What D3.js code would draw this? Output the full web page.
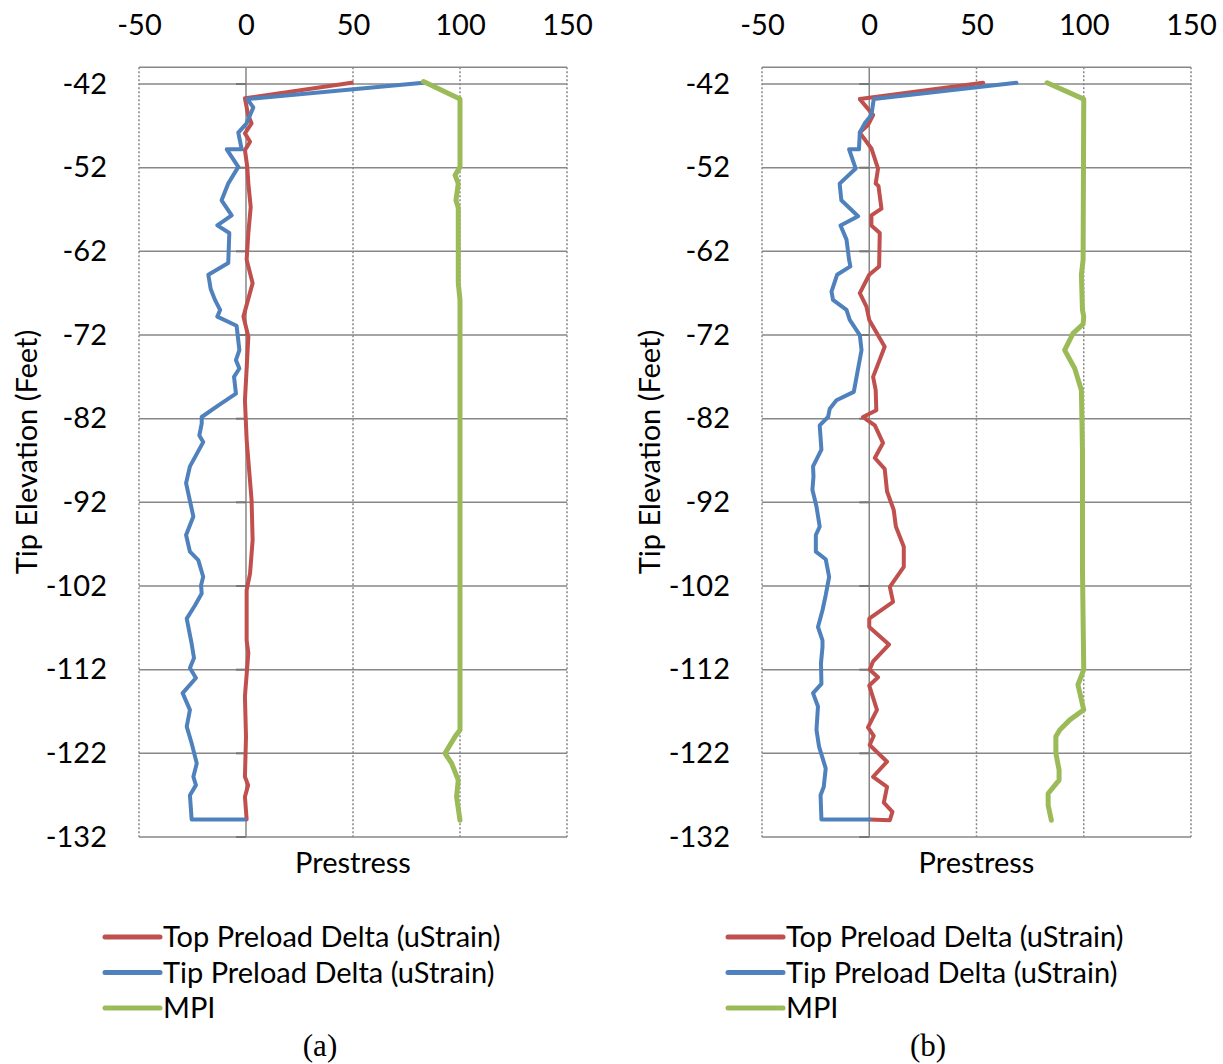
<!DOCTYPE html>
<html>
<head>
<meta charset="utf-8">
<script src="https://cdn.jsdelivr.net/npm/d3@7"></script>
<style>
  body { margin: 0; background: #fff; }
  svg text { font-family: Lato, "Open Sans", sans-serif; fill: #000; }
</style>
</head>
<body>
<div id="chart"></div>
<script>
// values: [tip elevation (ft), value]
const xTicks = [-50, 0, 50, 100, 150];
const yTicks = [-42, -52, -62, -72, -82, -92, -102, -112, -122, -132];
const seriesNames = ["Top Preload Delta (uStrain)", "Tip Preload Delta (uStrain)", "MPI"];
const seriesColors = ["#C0504D", "#4F81BD", "#9BBB59"];
const captions = ["(a)", "(b)"];

const topA = [[-41.85,49.4],[-43.7,-0.5],[-45.7,1],[-46.7,2.6],[-47.9,-0.5],[-48.9,1.9],[-49.9,-0.5],[-51.9,0.6],[-53.9,1.1],[-56.7,2.2],[-59.8,1.1],[-63,0.3],[-65.8,3.1],[-69.8,-1.2],[-72.2,1.1],[-79.8,-0.5],[-84.5,0.3],[-91.7,2.6],[-96.5,3.1],[-100.5,1.9],[-102.5,0.3],[-108.5,0.3],[-110,1.1],[-115.2,-0.5],[-120,0],[-124.8,-0.5],[-125.8,1],[-127.2,-0.5],[-129.9,0.3]];
const tipA = [[-41.85,82.9],[-43.8,0.6],[-44.8,3.4],[-46.7,0.3],[-47.8,-3.6],[-49.8,-2],[-49.8,-9],[-51.9,-3.6],[-53.9,-8.3],[-55.9,-11.4],[-57.7,-6.7],[-58.9,-13.4],[-59.8,-7.8],[-63.4,-8.3],[-64.8,-17.6],[-66.5,-16.5],[-67.8,-14.5],[-69,-12.1],[-69.8,-13.4],[-70.9,-4.4],[-73.8,-3.1],[-75,-4.7],[-76,-3.1],[-77,-5.6],[-79,-4.7],[-80.4,-12.9],[-81.8,-20.7],[-82.6,-20.7],[-84,-21.8],[-84.8,-20],[-87.7,-26.2],[-89.7,-28],[-93.7,-24.6],[-95.9,-28],[-97.9,-26.2],[-98.9,-22.3],[-100.9,-20],[-101.9,-21],[-102.9,-20.7],[-104.3,-23.8],[-105.9,-27.7],[-108.9,-25.4],[-110.6,-24.3],[-111.8,-26.2],[-113,-23.4],[-114.8,-29.6],[-116.8,-26.2],[-118.8,-27.7],[-120.8,-25.4],[-123.2,-23],[-124.8,-24.6],[-125.8,-23.4],[-127,-26.2],[-129.9,-25.4],[-129.9,-0.5]];
const mpiA = [[-41.7,82.9],[-43.8,100],[-51.9,100],[-52.9,97.7],[-53.9,99.2],[-55.9,98.1],[-56.8,99.2],[-65.8,99.2],[-67.8,100],[-119.2,100],[-120,97.7],[-122,93],[-123.2,96.1],[-125.2,99.2],[-127.2,98.4],[-130,100]];

const topB = [[-41.85,53.1],[-43.8,-4.4],[-45.7,1.8],[-46.9,-0.6],[-47.8,-4.4],[-49.7,1],[-52.1,4.1],[-53.9,3],[-54.2,4.3],[-56.9,5.7],[-57.7,1],[-58.9,1],[-59.8,4.9],[-63.8,4.6],[-64.8,0],[-67,-4.4],[-68.6,-1.3],[-70.2,0],[-73.4,7.2],[-77,1.8],[-78.6,3],[-81,3.3],[-81.8,-2.9],[-82.8,2.6],[-84.9,6.4],[-86.7,2.6],[-88,7.2],[-90.7,8.3],[-92.9,11.4],[-94.9,12.4],[-97.3,16.1],[-99.7,16.1],[-102.1,9.6],[-103.9,11.1],[-105.9,0],[-106.9,0],[-109,9.2],[-111,1.8],[-112,0.2],[-112.9,4.1],[-113.9,0],[-116.8,3.6],[-118.9,-0.6],[-119.9,2.1],[-121,0.2],[-123,8.3],[-124.8,1.8],[-126,8.3],[-127.9,6.8],[-129,10.8],[-130,9.6],[-129.9,0.2]];
const tipB = [[-41.85,68.6],[-43.8,2.1],[-45.7,1],[-46.7,-2.1],[-47.8,-4.4],[-49.8,-4.8],[-49.8,-9.4],[-52.1,-6.3],[-53.9,-13.8],[-55.9,-13],[-57.8,-5.2],[-58.9,-13.4],[-60.6,-10.6],[-63,-9.4],[-63.8,-8.8],[-64.8,-15],[-66.8,-17.6],[-67.8,-16.9],[-69,-10.6],[-70.2,-9.1],[-72,-4.4],[-73.8,-3.6],[-78.8,-7.2],[-79.8,-15.3],[-80.8,-18.4],[-81.8,-19.2],[-82.8,-23.1],[-85.7,-22.3],[-87.7,-26.2],[-88.9,-26],[-90.5,-26.5],[-92.5,-24.6],[-94.9,-23.1],[-95.9,-24.9],[-97.9,-24.9],[-98.8,-20.3],[-100.9,-18.7],[-103.1,-20.3],[-104.9,-21.8],[-106.9,-23.9],[-108.5,-21.8],[-109.3,-21.8],[-111.2,-22.5],[-113.7,-22.3],[-114.8,-26.2],[-116.4,-23.9],[-119.2,-24.6],[-121.2,-23.4],[-123.8,-20.3],[-126,-21.2],[-127,-22.7],[-129.9,-22.3],[-129.9,0.2]];
const mpiB = [[-41.85,82.9],[-43.8,100],[-63,99.7],[-64.8,98.9],[-69,99.4],[-69.8,100],[-70.7,99.7],[-71.8,95],[-73.8,91.1],[-76,95.8],[-78.6,98.9],[-85.7,99.4],[-100,99.4],[-112,100],[-113.8,97.3],[-116.8,100],[-118,93.5],[-119.2,88.8],[-120,87],[-122,87],[-124,88.5],[-125.2,88.5],[-126.8,83.4],[-128.2,83.4],[-130,84.9]];

const panels = [
  { left: 139, right: 567, series: [topA, tipA, mpiA] },
  { left: 762, right: 1191, series: [topB, tipB, mpiB] }
];

const W = 1223, H = 1064;
const plotTop = 67.3, plotBottom = 837;
const gridColor = "#878787";
const fs = 29;

const svg = d3.select("#chart").append("svg")
  .attr("width", W).attr("height", H);

const y = d3.scaleLinear().domain([-40, -132]).range([plotTop, plotBottom]);

panels.forEach((p, pi) => {
  const x = d3.scaleLinear().domain([-50, 150]).range([p.left, p.right]);
  const g = svg.append("g");

  // vertical dotted gridlines
  g.append("g").selectAll("line")
    .data(xTicks.filter(d => d !== 0))
    .join("line")
    .attr("x1", d => x(d)).attr("x2", d => x(d))
    .attr("y1", plotTop).attr("y2", plotBottom)
    .attr("stroke", gridColor).attr("stroke-width", 1.5)
    .attr("stroke-dasharray", "2,2");

  // horizontal gridlines + top border
  g.append("g").selectAll("line")
    .data(yTicks.concat([-40]))
    .join("line")
    .attr("x1", x(-50)).attr("x2", x(150))
    .attr("y1", d => y(d)).attr("y2", d => y(d))
    .attr("stroke", gridColor).attr("stroke-width", 1.5);

  // zero axis with little ticks
  g.append("line")
    .attr("x1", x(0)).attr("x2", x(0))
    .attr("y1", plotTop).attr("y2", plotBottom)
    .attr("stroke", gridColor).attr("stroke-width", 1.5);
  g.append("g").selectAll("line")
    .data(yTicks)
    .join("line")
    .attr("x1", x(0) - 10).attr("x2", x(0))
    .attr("y1", d => y(d)).attr("y2", d => y(d))
    .attr("stroke", "#777").attr("stroke-width", 2);

  // axes (labels only)
  const xa = g.append("g")
    .attr("transform", `translate(0,${plotTop})`)
    .call(d3.axisTop(x).tickValues(xTicks).tickFormat(d => String(d)).tickSize(0).tickPadding(32));
  const ya = g.append("g")
    .attr("transform", `translate(${p.left},0)`)
    .call(d3.axisLeft(y).tickValues(yTicks).tickFormat(d => String(d)).tickSize(0).tickPadding(32));
  [xa, ya].forEach(a => {
    a.select(".domain").remove();
    a.selectAll("text").attr("font-family", "Lato, sans-serif").attr("font-size", fs).attr("fill", "#000");
  });

  // series lines
  const line = d3.line().x(d => x(d[1])).y(d => y(d[0]));
  p.series.forEach((s, si) => {
    g.append("path")
      .datum(s)
      .attr("d", line)
      .attr("fill", "none")
      .attr("stroke", seriesColors[si])
      .attr("stroke-width", si === 2 ? 5 : 4)
      .attr("stroke-linejoin", "round")
      .attr("stroke-linecap", "round");
  });

  // axis titles
  g.append("text")
    .attr("transform", `translate(${p.left - 112},452) rotate(-90)`)
    .attr("text-anchor", "middle")
    .attr("dy", "0.35em")
    .attr("font-size", fs)
    .text("Tip Elevation (Feet)");
  g.append("text")
    .attr("x", x(50)).attr("y", 863)
    .attr("text-anchor", "middle")
    .attr("dy", "0.35em")
    .attr("font-size", fs)
    .text("Prestress");

  // legend
  const lg = g.append("g").attr("transform", `translate(${p.left - 34},0)`);
  seriesNames.forEach((n, i) => {
    const ly = 937 + i * 35.5;
    lg.append("line")
      .attr("x1", 0).attr("x2", 55)
      .attr("y1", ly).attr("y2", ly)
      .attr("stroke", seriesColors[i]).attr("stroke-width", 5)
      .attr("stroke-linecap", "round");
    lg.append("text")
      .attr("x", 58).attr("y", ly)
      .attr("dy", "0.35em")
      .attr("font-size", fs)
      .text(n);
  });

  // caption
  g.append("text")
    .attr("x", pi === 0 ? 320 : 928).attr("y", 1056)
    .attr("text-anchor", "middle")
    .style("font-family", "'Liberation Serif', 'DejaVu Serif', serif")
    .attr("font-size", 31)
    .text(captions[pi]);
});
</script>
</body>
</html>
